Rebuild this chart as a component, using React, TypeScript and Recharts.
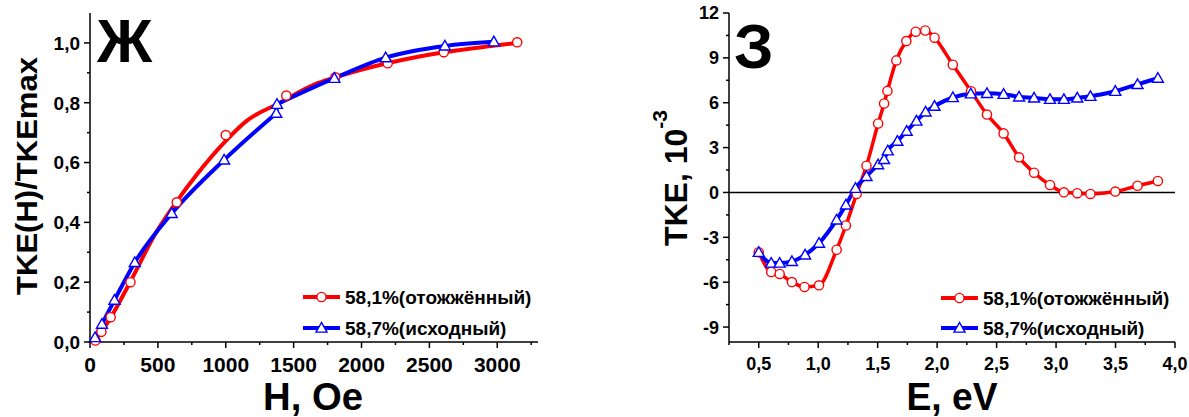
import React from 'react';
import { ComposedChart, Line, XAxis, YAxis, ReferenceLine } from 'recharts';

const RED = '#ff0000';
const BLUE = '#0000ff';
const FONT = "'Liberation Sans', Arial, Helvetica, sans-serif";

// panel Ж : TKE(H)/TKEmax vs H
const hCircles = [
  { x: 40, y: 0.005 }, { x: 84, y: 0.034 }, { x: 152, y: 0.083 }, { x: 298, y: 0.2 },
  { x: 639, y: 0.467 }, { x: 1000, y: 0.692 }, { x: 1446, y: 0.824 }, { x: 1807, y: 0.885 },
  { x: 2193, y: 0.932 }, { x: 2606, y: 0.969 }, { x: 3147, y: 1.002 },
];
// fitted red curve
const hCircleFit = [
  { x: 30, y: 0 }, { x: 100, y: 0.045 }, { x: 150, y: 0.08 }, { x: 295, y: 0.2 },
  { x: 492, y: 0.37 }, { x: 639, y: 0.47 }, { x: 787, y: 0.56 }, { x: 995, y: 0.67 },
  { x: 1156, y: 0.74 }, { x: 1400, y: 0.8 }, { x: 1647, y: 0.86 }, { x: 1807, y: 0.885 },
  { x: 2188, y: 0.932 }, { x: 2606, y: 0.969 }, { x: 3000, y: 0.992 }, { x: 3147, y: 1.0 },
];
const hTriangles = [
  { x: 37, y: 0.015 }, { x: 88, y: 0.06 }, { x: 180, y: 0.14 }, { x: 330, y: 0.266 },
  { x: 602, y: 0.43 }, { x: 988, y: 0.609 }, { x: 1372, y: 0.765 }, { x: 1377, y: 0.795 },
  { x: 1800, y: 0.882 }, { x: 2178, y: 0.951 }, { x: 2614, y: 0.99 }, { x: 2975, y: 1.004 },
];
const hTicksX = [0, 250, 500, 750, 1000, 1250, 1500, 1750, 2000, 2250, 2500, 2750, 3000, 3250];
const hTicksY = [0, 0.1, 0.2, 0.3, 0.4, 0.5, 0.6, 0.7, 0.8, 0.9, 1.0];

// panel З : TKE vs E
const eCircles = [
  { x: 0.5, y: -4.0 }, { x: 0.605, y: -5.32 }, { x: 0.676, y: -5.45 }, { x: 0.779, y: -5.99 },
  { x: 0.885, y: -6.32 }, { x: 1.007, y: -6.21 }, { x: 1.155, y: -3.83 }, { x: 1.233, y: -2.21 },
  { x: 1.323, y: -0.1 }, { x: 1.406, y: 1.79 }, { x: 1.504, y: 4.61 }, { x: 1.554, y: 5.95 },
  { x: 1.582, y: 6.79 }, { x: 1.657, y: 8.83 }, { x: 1.741, y: 10.12 }, { x: 1.82, y: 10.75 },
  { x: 1.9, y: 10.83 }, { x: 1.978, y: 10.35 }, { x: 2.132, y: 8.54 }, { x: 2.285, y: 6.77 },
  { x: 2.419, y: 5.21 }, { x: 2.559, y: 3.95 }, { x: 2.689, y: 2.35 }, { x: 2.815, y: 1.32 },
  { x: 2.949, y: 0.5 }, { x: 3.066, y: 0.01 }, { x: 3.178, y: -0.05 }, { x: 3.289, y: -0.1 },
  { x: 3.498, y: 0.06 }, { x: 3.685, y: 0.45 }, { x: 3.856, y: 0.77 },
];
const eTriangles = [
  { x: 0.5, y: -4.0 }, { x: 0.605, y: -4.72 }, { x: 0.676, y: -4.72 }, { x: 0.779, y: -4.61 },
  { x: 0.89, y: -4.17 }, { x: 1.007, y: -3.39 }, { x: 1.155, y: -1.83 }, { x: 1.233, y: -0.83 },
  { x: 1.313, y: 0.28 }, { x: 1.406, y: 1.08 }, { x: 1.504, y: 1.86 }, { x: 1.554, y: 2.21 },
  { x: 1.585, y: 2.79 }, { x: 1.666, y: 3.43 }, { x: 1.744, y: 4.1 }, { x: 1.826, y: 4.78 },
  { x: 1.903, y: 5.39 }, { x: 1.978, y: 5.77 }, { x: 2.132, y: 6.35 }, { x: 2.283, y: 6.6 },
  { x: 2.419, y: 6.63 }, { x: 2.559, y: 6.57 }, { x: 2.689, y: 6.39 }, { x: 2.815, y: 6.32 },
  { x: 2.949, y: 6.23 }, { x: 3.066, y: 6.23 }, { x: 3.178, y: 6.32 }, { x: 3.289, y: 6.43 },
  { x: 3.498, y: 6.77 }, { x: 3.685, y: 7.23 }, { x: 3.856, y: 7.65 },
];
const eTicksX = [0.25, 0.5, 0.75, 1, 1.25, 1.5, 1.75, 2, 2.25, 2.5, 2.75, 3, 3.25, 3.5, 3.75, 4];
const eTicksY = [-9, -7.5, -6, -4.5, -3, -1.5, 0, 1.5, 3, 4.5, 6, 7.5, 9, 10.5, 12];

const comma = (v: number) => v.toFixed(1).replace('.', ',');

// blue curve in panel Ж has a jump between the two triangles near 1375 Oe
const hTriLow = hTriangles.slice(0, 7);
const hTriJump = hTriangles.slice(6, 8);
const hTriHigh = hTriangles.slice(7);

const Tri = ({ cx, cy, size = 5.5 }: { cx: number; cy: number; size?: number }) => (
  <path
    d={`M${cx},${cy - size} L${cx - size},${cy + size * 0.75} L${cx + size},${cy + size * 0.75} Z`}
    fill="#fff"
    stroke={BLUE}
    strokeWidth={1.4}
  />
);

const bottomTick = (isMajor: (v: number) => boolean, fmt: (v: number) => string, fs: number, dy: number) =>
  (props: any) => {
    const { x, y, payload } = props;
    const major = isMajor(payload.value);
    return (
      <g>
        <line x1={x} y1={y} x2={x} y2={y + (major ? 6 : 3)} stroke="#000" strokeWidth={1.5} />
        {major && (
          <text x={x} y={y + dy} textAnchor="middle" fontFamily={FONT} fontWeight="bold" fontSize={fs} fill="#000">
            {fmt(payload.value)}
          </text>
        )}
      </g>
    );
  };

const leftTick = (isMajor: (v: number) => boolean, fmt: (v: number) => string, fs: number) =>
  (props: any) => {
    const { x, y, payload } = props;
    const major = isMajor(payload.value);
    return (
      <g>
        <line x1={x} y1={y} x2={x - (major ? 6 : 3)} y2={y} stroke="#000" strokeWidth={1.5} />
        {major && (
          <text x={x - 10} y={y} dy="0.36em" textAnchor="end" fontFamily={FONT} fontWeight="bold" fontSize={fs} fill="#000">
            {fmt(payload.value)}
          </text>
        )}
      </g>
    );
  };

const topTick = (props: any) => (
  <line x1={props.x} y1={props.y} x2={props.x} y2={props.y + 3} stroke="#000" strokeWidth={1.2} />
);
const rightTick = (props: any) => (
  <line x1={props.x} y1={props.y} x2={props.x - 4} y2={props.y} stroke="#000" strokeWidth={1.2} />
);

const axisLine = { stroke: '#000', strokeWidth: 1.5 };

const LegendRows = ({ x, y1, y2 }: { x: number; y1: number; y2: number }) => (
  <g fontFamily={FONT} fontWeight="bold" fontSize={19} fill="#000">
    <line x1={x} y1={y1} x2={x + 37} y2={y1} stroke={RED} strokeWidth={4} />
    <circle cx={x + 18.5} cy={y1} r={4.6} fill="#fff" stroke={RED} strokeWidth={1.4} />
    <text x={x + 42} y={y1 + 7}>58,1%(отожжённый)</text>
    <line x1={x} y1={y2} x2={x + 37} y2={y2} stroke={BLUE} strokeWidth={4} />
    <Tri cx={x + 18.5} cy={y2} size={5.5} />
    <text x={x + 42} y={y2 + 7}>58,7%(исходный)</text>
  </g>
);

export default function App() {
  return (
    <div style={{ position: 'absolute', left: 0, top: 0, width: 1189, height: 417, background: '#fff' }}>
      <div style={{ position: 'absolute', left: 0, top: 0 }}>
        <ComposedChart width={560} height={417} margin={{ top: 13, right: 22, bottom: 0, left: 0 }}>
          <XAxis xAxisId="b" dataKey="x" type="number" domain={[0, 3300]} ticks={hTicksX} interval={0}
            height={75} tickSize={0} tickMargin={0} tickLine={false} axisLine={axisLine}
            tick={bottomTick((v) => v % 500 === 0, (v) => String(v), 21, 30)} />
          <XAxis xAxisId="t" orientation="top" dataKey="x" type="number" domain={[0, 3300]} ticks={hTicksX}
            interval={0} height={0} tickSize={0} tickMargin={0} tickLine={false} axisLine={axisLine} tick={topTick} />
          <YAxis yAxisId="l" type="number" domain={[0, 1.1]} ticks={hTicksY} interval={0} width={90}
            tickSize={0} tickMargin={0} tickLine={false} axisLine={axisLine}
            tick={leftTick((v) => Math.round(v * 10) % 2 === 0, comma, 19)} />
          <YAxis yAxisId="r" orientation="right" type="number" domain={[0, 1.1]} ticks={hTicksY} interval={0}
            width={0} tickSize={0} tickMargin={0} tickLine={false} axisLine={axisLine} tick={rightTick} />
          <Line xAxisId="b" yAxisId="l" data={hCircleFit} dataKey="y" type="monotone" stroke={RED}
            strokeWidth={4} dot={false} activeDot={false} isAnimationActive={false} />
          <Line xAxisId="b" yAxisId="l" data={hCircles} dataKey="y" stroke="none" activeDot={false}
            dot={{ r: 4.6, stroke: RED, strokeWidth: 1.4, fill: '#fff' }} isAnimationActive={false} />
          <Line xAxisId="b" yAxisId="l" data={hTriLow} dataKey="y" type="monotone" stroke={BLUE}
            strokeWidth={4} dot={false} activeDot={false} isAnimationActive={false} />
          <Line xAxisId="b" yAxisId="l" data={hTriJump} dataKey="y" type="linear" stroke={BLUE}
            strokeWidth={4} dot={false} activeDot={false} isAnimationActive={false} />
          <Line xAxisId="b" yAxisId="l" data={hTriHigh} dataKey="y" type="monotone" stroke={BLUE}
            strokeWidth={4} dot={false} activeDot={false} isAnimationActive={false} />
          <Line xAxisId="b" yAxisId="l" data={hTriangles} dataKey="y" stroke="none" activeDot={false}
            isAnimationActive={false} dot={(p: any) => <Tri key={p.index} cx={p.cx} cy={p.cy} />} />
        </ComposedChart>
      </div>

      <div style={{ position: 'absolute', left: 640, top: 0 }}>
        <ComposedChart width={549} height={417} margin={{ top: 13, right: 14, bottom: 0, left: 0 }}>
          <XAxis xAxisId="b" dataKey="x" type="number" domain={[0.25, 4]} ticks={eTicksX} interval={0}
            height={75} tickSize={0} tickMargin={0} tickLine={false} axisLine={axisLine}
            tick={bottomTick((v) => Math.round(v * 100) % 50 === 0, comma, 18, 28)} />
          <XAxis xAxisId="t" orientation="top" dataKey="x" type="number" domain={[0.25, 4]} ticks={eTicksX}
            interval={0} height={0} tickSize={0} tickMargin={0} tickLine={false} axisLine={axisLine} tick={topTick} />
          <YAxis yAxisId="l" type="number" domain={[-10, 12]} ticks={eTicksY} interval={0} width={89}
            tickSize={0} tickMargin={0} tickLine={false} axisLine={axisLine}
            tick={leftTick((v) => v % 3 === 0, (v) => String(v), 18)} />
          <YAxis yAxisId="r" orientation="right" type="number" domain={[-10, 12]} ticks={eTicksY} interval={0}
            width={0} tickSize={0} tickMargin={0} tickLine={false} axisLine={axisLine} tick={rightTick} />
          <ReferenceLine xAxisId="b" yAxisId="l" y={0} stroke="#000" strokeWidth={1.5} />
          <Line xAxisId="b" yAxisId="l" data={eCircles} dataKey="y" type="monotone" stroke={RED}
            strokeWidth={3.5} dot={false} activeDot={false} isAnimationActive={false} />
          <Line xAxisId="b" yAxisId="l" data={eTriangles} dataKey="y" type="monotone" stroke={BLUE}
            strokeWidth={4} dot={false} activeDot={false} isAnimationActive={false} />
          <Line xAxisId="b" yAxisId="l" data={eCircles} dataKey="y" stroke="none" activeDot={false}
            dot={{ r: 4.6, stroke: RED, strokeWidth: 1.4, fill: '#fff' }} isAnimationActive={false} />
          <Line xAxisId="b" yAxisId="l" data={eTriangles} dataKey="y" stroke="none" activeDot={false}
            isAnimationActive={false} dot={(p: any) => <Tri key={p.index} cx={p.cx} cy={p.cy} />} />
        </ComposedChart>
      </div>

      <svg width={1189} height={417} style={{ position: 'absolute', left: 0, top: 0, pointerEvents: 'none' }}>
        <g fontFamily={FONT} fontWeight="bold" fill="#000">
          <text x={97} y={62} fontSize={61}>Ж</text>
          <text x={734} y={68} fontSize={63}>З</text>
          <text x={313} y={410} fontSize={39} textAnchor="middle" textLength={100} lengthAdjust="spacingAndGlyphs">H, Oe</text>
          <text x={952} y={410} fontSize={39} textAnchor="middle" textLength={91} lengthAdjust="spacingAndGlyphs">E, eV</text>
          <text x={37} y={176} fontSize={30} textAnchor="middle" transform="rotate(-90 37 176)"
            textLength={238} lengthAdjust="spacingAndGlyphs">TKE(H)/TKEmax</text>
          <text x={687} y={178} fontSize={32} textAnchor="middle" transform="rotate(-90 687 178)">
            TKE, 10<tspan fontSize={21} dy={-20}>-3</tspan>
          </text>
        </g>
        <LegendRows x={303} y1={297} y2={328} />
        <LegendRows x={941} y1={298} y2={328} />
      </svg>
    </div>
  );
}
